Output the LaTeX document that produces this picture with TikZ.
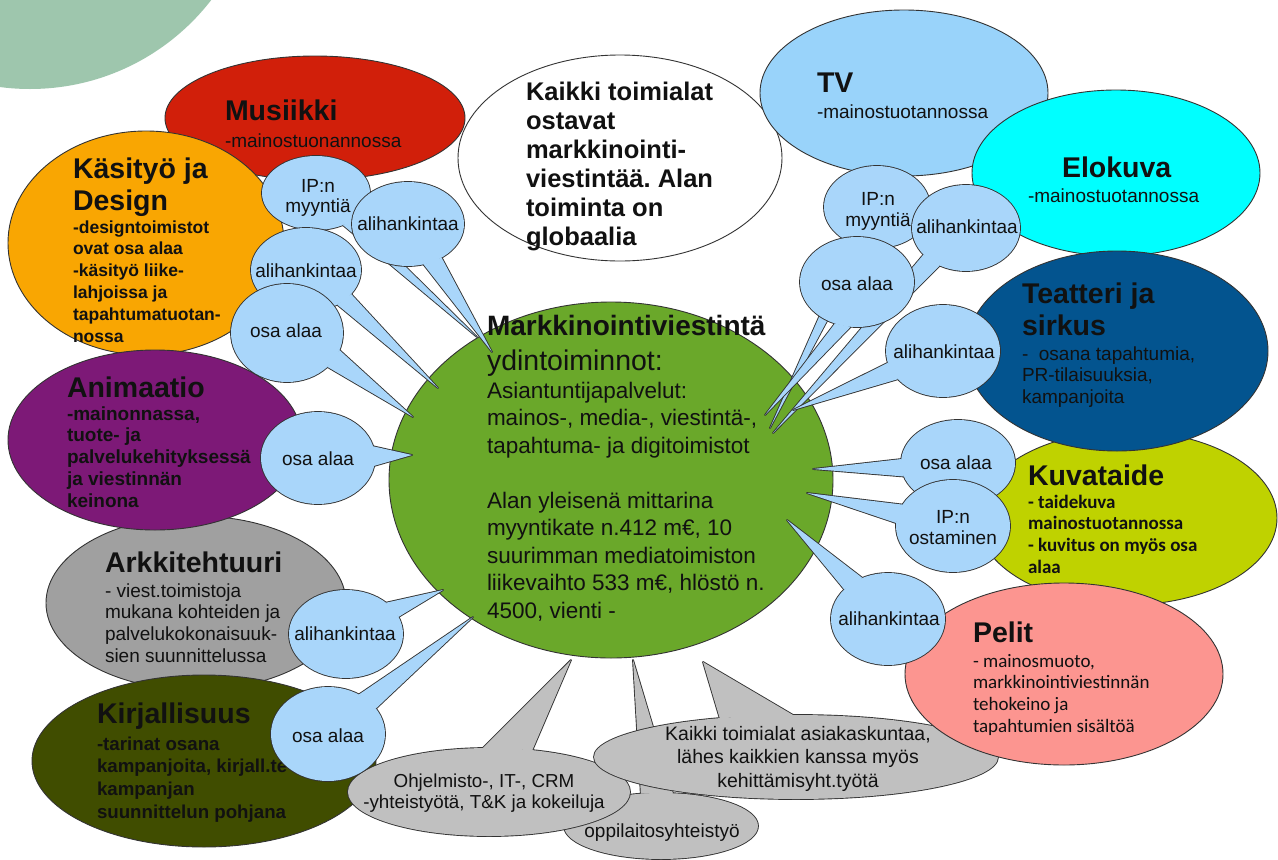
\documentclass[tikz,border=0pt]{standalone}
\usepackage{fontspec}
\setmainfont{Liberation Sans}
\newfontfamily\calib{Carlito}
\usetikzlibrary{shapes.geometric}
\frenchspacing
\definecolor{edge}{HTML}{333333}
\definecolor{ink}{HTML}{111111}
\definecolor{pgreen}{HTML}{9EC6AD}
\definecolor{cred}{HTML}{D11F0A}
\definecolor{corange}{HTML}{F9A602}
\definecolor{cpurple}{HTML}{7D1977}
\definecolor{cgray}{HTML}{A0A0A0}
\definecolor{colive}{HTML}{404D00}
\definecolor{cgreen}{HTML}{6AA82A}
\definecolor{cbub}{HTML}{A9D6FA}
\definecolor{ctv}{HTML}{99D3FA}
\definecolor{ccyan}{HTML}{00FFFF}
\definecolor{cteat}{HTML}{03548F}
\definecolor{ckuva}{HTML}{BFD200}
\definecolor{cpelit}{HTML}{FC9590}
\definecolor{clgray}{HTML}{C0C0C0}

\newcommand{\ttl}{\bfseries\fontsize{28.5}{32}\selectfont}
\newcommand{\bodyr}{\fontsize{19}{21.7}\selectfont}
\newcommand{\bubf}{\fontsize{19}{21}\selectfont}
\newcommand{\tb}[2]{\parbox[t]{400pt}{\raggedright\frenchspacing #1 #2}}
\newcommand{\cb}[2]{\parbox[t]{400pt}{\centering\frenchspacing #1 #2}}

% callout: name, center, width, height, colour, angle a, angle b, tip
\newcommand{\bub}[8]{%
  \node[ellipse, draw=edge, line width=1.8pt, fill=#5, minimum width=#3pt, minimum height=#4pt, inner sep=0pt, outer sep=0pt] (#1) at #2 {};
  \draw[line width=1.8pt, draw=edge, fill=#5, line join=round] (#1.#6) -- (#8) -- (#1.#7) -- cycle;
  \node[ellipse, fill=#5, minimum width=#3pt, minimum height=#4pt, inner sep=0pt, outer sep=0pt] (#1-f) at #2 {};
  \fill[#5] (#1.#6) -- (#8) -- (#1.#7) -- cycle;}

\tikzset{
  big/.style={ellipse, draw=edge, line width=0.9pt, inner sep=0pt, outer sep=0pt},
  txt/.style={inner sep=0pt, outer sep=0pt, anchor=base west, text=ink},
  ctxt/.style={inner sep=0pt, outer sep=0pt, anchor=base, text=ink},
}

\begin{document}
\begin{tikzpicture}[x=1pt,y=-1pt]
\useasboundingbox (0,0) rectangle (1278,860);
\clip (0,0) rectangle (1278,860);
\fill[white] (0,0) rectangle (1278,860);
\fill[pgreen] (30,-140) circle[radius=229pt];

% tips
\coordinate (tA) at (477,337);
\coordinate (tB) at (492,352);
\coordinate (tC) at (438,388);
\coordinate (tD) at (413,417);
\coordinate (tE) at (412,455);
\coordinate (tF) at (443,590);
\coordinate (tG) at (473,617);
\coordinate (tH) at (770,428);
\coordinate (tI) at (773,433);
\coordinate (tJ) at (765,415);
\coordinate (tK) at (793,410);
\coordinate (tL) at (813,469);
\coordinate (tM) at (807,493);
\coordinate (tN) at (787,520);
\coordinate (tO) at (633,660);
\coordinate (tP) at (571,660);
\coordinate (tQ) at (703,662);

% Musiikki
\node[big, fill=cred, minimum width=300pt, minimum height=124pt] (mus) at (315,118) {};
\node[txt] (mus-t) at (225,120) {\tb{\ttl}{Musiikki}};
\node[txt] (mus-b) at (225,147) {\tb{\bodyr}{-mainostuonannossa}};

% white
\node[big, fill=white, minimum width=324pt, minimum height=206pt] (wht) at (620,158) {};
\node[txt] (wht-t) at (526,100) {\tb{\bfseries\fontsize{25.5}{29}\selectfont}{Kaikki toimialat\\ostavat\\markkinointi-\\viestintää. Alan\\toiminta on\\globaalia}};

% Kasityo
\node[big, fill=corange, minimum width=276pt, minimum height=224pt] (kas) at (146,243) {};
\node[txt] (kas-t) at (73,178) {\tb{\ttl}{Käsityö ja\\Design}};
\node[txt] (kas-b) at (73,233) {\tb{\bfseries\fontsize{17.5}{21.9}\selectfont}{-designtoimistot\\ovat osa alaa\\-käsityö liike-\\lahjoissa ja\\tapahtumatuotan-\\nossa}};

% Arkkitehtuuri
\node[big, fill=cgray, minimum width=300pt, minimum height=174pt] (ark) at (196,603) {};
\node[txt] (ark-t) at (105,572) {\tb{\ttl}{Arkkitehtuuri}};
\node[txt] (ark-b) at (105,597) {\tb{\bodyr}{- viest.toimistoja\\mukana kohteiden ja\\palvelukokonaisuuk-\\sien suunnittelussa}};

% Animaatio
\node[big, fill=cpurple, minimum width=294pt, minimum height=180pt] (ani) at (155,440) {};
\node[txt] (ani-t) at (67,397) {\tb{\ttl}{Animaatio}};
\node[txt] (ani-b) at (67,420) {\tb{\bfseries\fontsize{19}{21.8}\selectfont}{-mainonnassa,\\tuote- ja\\palvelukehityksessä\\ja viestinnän\\keinona}};

% Kirjallisuus
\node[big, fill=colive, minimum width=344pt, minimum height=172pt] (kir) at (204,761) {};
\node[txt] (kir-t) at (97,723) {\tb{\ttl}{Kirjallisuus}};
\node[txt] (kir-b) at (97,750) {\tb{\bfseries\fontsize{18.7}{22.7}\selectfont}{-tarinat osana\\kampanjoita, kirjall.te\\kampanjan\\suunnittelun pohjana}};

% TV
\node[big, fill=ctv, minimum width=288pt, minimum height=166pt] (tv) at (904,93) {};
\node[txt] (tv-t) at (817,92) {\tb{\ttl}{TV}};
\node[txt] (tv-b) at (817,118) {\tb{\bodyr}{-mainostuotannossa}};

% Elokuva
\node[big, fill=ccyan, minimum width=288pt, minimum height=166pt] (elo) at (1116,173) {};
\node[txt] (elo-t) at (1062,177) {\tb{\ttl}{Elokuva}};
\node[txt] (elo-b) at (1028,202) {\tb{\bodyr}{-mainostuotannossa}};

% Kuvataide
\node[big, fill=ckuva, minimum width=300pt, minimum height=174pt] (kuv) at (1127,518) {};
\node[txt] (kuv-t) at (1028,485) {\tb{\ttl}{Kuvataide}};
\node[txt] (kuv-b) at (1028,508) {\tb{\calib\bfseries\fontsize{19}{21.7}\selectfont}{- taidekuva\\mainostuotannossa\\- kuvitus on myös osa\\alaa}};

% Teatteri
\node[big, fill=cteat, minimum width=302pt, minimum height=200pt] (tea) at (1117,351) {};
\node[txt] (tea-t) at (1022,303) {\tb{\ttl}{Teatteri ja\\sirkus}};
\node[txt] (tea-b) at (1022,360) {\tb{\bodyr}{-~ osana tapahtumia,\\PR-tilaisuuksia,\\kampanjoita}};

% core
\node[big, fill=cgreen, minimum width=444pt, minimum height=356pt] (core) at (611,480) {};
\node[txt] (core-t) at (487,335) {\tb{\bfseries\fontsize{28}{32}\selectfont}{Markkinointiviestintä}};
\node[txt] (core-s) at (487,370) {\tb{\fontsize{28.5}{32}\selectfont}{ydintoiminnot:}};
\node[txt] (core-b) at (487,398) {\tb{\fontsize{22.5}{27.5}\selectfont}{Asiantuntijapalvelut:\\mainos-, media-, viestintä-,\\tapahtuma- ja digitoimistot\\[27.5pt]Alan yleisenä mittarina\\myyntikate n.412 m€, 10\\suurimman mediatoimiston\\liikevaihto 533 m€, hlöstö n.\\4500, vienti -}};

% bottom grey callouts
\bub{cO}{(661,826)}{194}{66}{clgray}{70}{122}{tO}
\node[ctxt] (cO-t) at (662,837) {\cb{\bubf}{oppilaitosyhteistyö}};
\bub{cP}{(489,792)}{282}{88}{clgray}{44}{98}{tP}
\node[ctxt] (cP-t) at (484,787) {\cb{\fontsize{18.8}{21}\selectfont}{Ohjelmisto-, IT-, CRM\\-yhteistyötä, T\&K ja kokeiluja}};
\bub{cQ}{(796,757)}{404}{84}{clgray}{94}{153}{tQ}
\node[ctxt] (cQ-t) at (798,740) {\cb{\fontsize{19.5}{23.5}\selectfont}{Kaikki toimialat asiakaskuntaa,\\lähes kaikkien kanssa myös\\kehittämisyht.työtä}};

% Pelit
\node[big, fill=cpelit, minimum width=318pt, minimum height=182pt] (pel) at (1064,674) {};
\node[txt] (pel-t) at (973,642) {\tb{\ttl}{Pelit}};
\node[txt] (pel-b) at (973,667) {\tb{\calib\fontsize{19}{21.7}\selectfont}{- mainosmuoto,\\markkinointiviestinnän\\tehokeino ja\\tapahtumien sisältöä}};

% left bubbles
\bub{bA}{(316,193)}{108}{74}{cbub}{328}{310}{tA}
\node[ctxt] (bA-t) at (318,192) {\cb{\fontsize{19}{20.5}\selectfont}{IP:n\\myyntiä}};
\bub{bB}{(408,224)}{112}{84}{cbub}{315}{291}{tB}
\node[ctxt] (bB-t) at (408,230) {\cb{\bubf}{alihankintaa}};
\bub{bC}{(306,270)}{110}{84}{cbub}{332}{312}{tC}
\node[ctxt] (bC-t) at (306,277) {\cb{\bubf}{alihankintaa}};
\bub{bD}{(287,333)}{112}{98}{cbub}{342}{320}{tD}
\node[ctxt] (bD-t) at (286,337) {\cb{\bubf}{osa alaa}};
\bub{bE}{(318,458)}{114}{92}{cbub}{12}{352}{tE}
\node[ctxt] (bE-t) at (318,465) {\cb{\bubf}{osa alaa}};
\bub{bF}{(346,634)}{114}{88}{cbub}{38}{18}{tF}
\node[ctxt] (bF-t) at (345,640) {\cb{\bubf}{alihankintaa}};
\bub{bG}{(328,734)}{114}{94}{cbub}{52}{28}{tG}
\node[ctxt] (bG-t) at (328,742) {\cb{\bubf}{osa alaa}};

% right bubbles
\bub{bH}{(877,207)}{106}{82}{cbub}{255}{235}{tH}
\node[ctxt] (bH-t) at (878,205) {\cb{\bubf}{IP:n\\myyntiä}};
\bub{bI}{(966,228)}{108}{86}{cbub}{235}{212}{tI}
\node[ctxt] (bI-t) at (967,233) {\cb{\bubf}{alihankintaa}};
\bub{bJ}{(857,282)}{114}{90}{cbub}{262}{242}{tJ}
\node[ctxt] (bJ-t) at (857,290) {\cb{\bubf}{osa alaa}};
\bub{bK}{(943,351)}{114}{92}{cbub}{212}{192}{tK}
\node[ctxt] (bK-t) at (944,358) {\cb{\bubf}{alihankintaa}};
\bub{bL}{(958,463)}{114}{86}{cbub}{176}{194}{tL}
\node[ctxt] (bL-t) at (956,469) {\cb{\bubf}{osa alaa}};
\bub{bM}{(953,526)}{114}{92}{cbub}{157}{177}{tM}
\node[ctxt] (bM-t) at (953,523) {\cb{\bubf}{IP:n\\ostaminen}};
\bub{bN}{(888,619)}{114}{92}{cbub}{122}{146}{tN}
\node[ctxt] (bN-t) at (889,625) {\cb{\bubf}{alihankintaa}};
\end{tikzpicture}
\end{document}
